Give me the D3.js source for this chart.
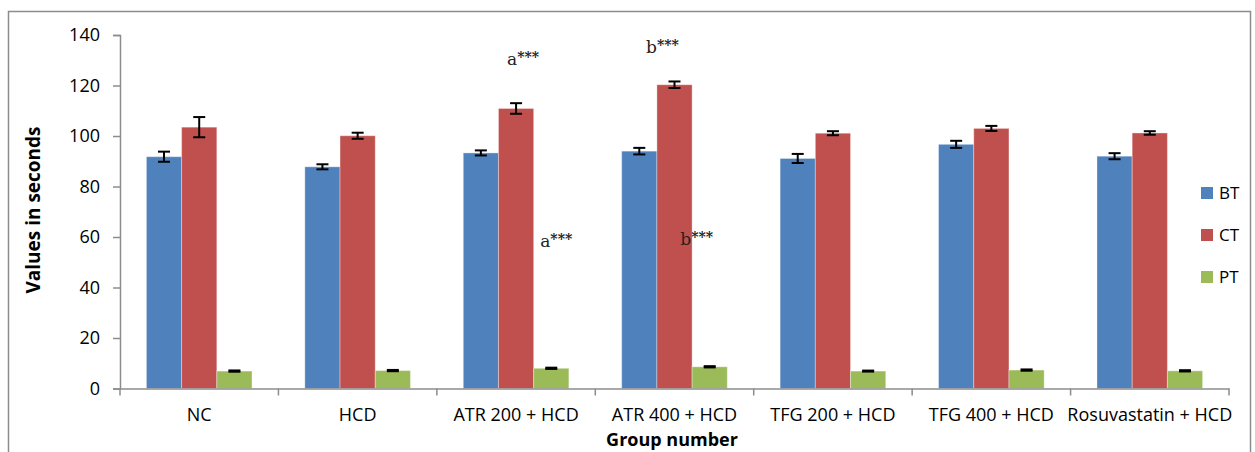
<!DOCTYPE html>
<html>
<head>
<meta charset="utf-8">
<script src="https://cdn.jsdelivr.net/npm/d3@7"></script>
<style>
  body { margin: 0; background: #fff; }
  svg { display: block; }
  .tick text { font-family: "Open Sans", "Liberation Sans", sans-serif; }
</style>
</head>
<body>
<div id="chart"></div>
<script>
// Data
const groups = ["NC", "HCD", "ATR 200 + HCD", "ATR 400 + HCD", "TFG 200 + HCD", "TFG 400 + HCD", "Rosuvastatin + HCD"];
const series = ["BT", "CT", "PT"];
const btValues = [91.8, 87.8, 93.3, 94.0, 91.1, 96.7, 92.0];
const btErrors = [2.0, 1.0, 1.0, 1.3, 1.8, 1.4, 1.2];
const ctValues = [103.5, 100.1, 110.9, 120.3, 101.1, 103.0, 101.2];
const ctErrors = [4.0, 1.2, 2.1, 1.3, 0.8, 1.0, 0.7];
const ptValues = [6.9, 7.1, 8.0, 8.6, 6.9, 7.3, 7.0];
const ptErrors = [0.25, 0.25, 0.25, 0.25, 0.2, 0.25, 0.25];
const yTicks = [0, 20, 40, 60, 80, 100, 120, 140];
const colors = ["#4F81BD", "#C0504D", "#9BBB59"];
// significance labels: group, series, value where the text sits, shift from bar centre
const marks = [
    {g: 2, s: 1, y: 128, dx: 7, label: "a", stars: "***"},
    {g: 3, s: 1, y: 133, dx: -12, label: "b", stars: "***"},
    {g: 2, s: 2, y: 56, dx: 5, label: "a", stars: "***"},
    {g: 3, s: 2, y: 57, dx: -13, label: "b", stars: "***"}
];

const values = [btValues, ctValues, ptValues];
const errors = [btErrors, ctErrors, ptErrors];

let width = 1255, height = 452;
let margin = {top: 35, left: 120, right: 26, bottom: 63.5};

let svg = d3.select("#chart").append("svg")
    .attr("width", width)
    .attr("height", height);

// outer frame
svg.append("rect")
    .attr("x", 8.5).attr("y", 11.5)
    .attr("width", 1242).attr("height", 470)
    .style("fill", "none")
    .style("stroke", "#8c8c8c")
    .style("stroke-width", 1.5);

let x = d3.scaleBand()
    .domain(groups)
    .range([margin.left, width - margin.right])
    .paddingInner(0)
    .paddingOuter(0);

let x1 = d3.scaleBand()
    .domain(series)
    .range([0, x.bandwidth()])
    .paddingInner(0)
    .paddingOuter(0.75);

let y = d3.scaleLinear()
    .domain([0, 140])
    .range([height - margin.bottom, margin.top]);

// bars
series.forEach(function (s, si) {
    svg.append("g").selectAll("rect")
        .data(groups)
        .join("rect")
        .attr("x", d => x(d) + x1(s))
        .attr("y", (d, i) => y(values[si][i]))
        .attr("width", x1.bandwidth())
        .attr("height", (d, i) => y(0) - y(values[si][i]))
        .style("fill", colors[si])
        .style("stroke", "rgba(255,255,255,0.35)")
        .style("stroke-width", 1);
});

// error bars
series.forEach(function (s, si) {
    let g = svg.append("g").style("stroke", "#000").style("stroke-width", 2);
    groups.forEach(function (d, i) {
        let cx = x(d) + x1(s) + x1.bandwidth() / 2;
        let hi = y(values[si][i] + errors[si][i]);
        let lo = y(values[si][i] - errors[si][i]);
        g.append("line").attr("x1", cx).attr("x2", cx).attr("y1", hi).attr("y2", lo);
        g.append("line").attr("x1", cx - 6).attr("x2", cx + 6).attr("y1", hi).attr("y2", hi);
        g.append("line").attr("x1", cx - 6).attr("x2", cx + 6).attr("y1", lo).attr("y2", lo);
    });
});

// y axis
let yAxis = svg.append("g")
    .attr("transform", "translate(" + margin.left + ",0)")
    .call(d3.axisLeft(y).tickValues(yTicks).tickSize(7).tickPadding(13));
yAxis.select(".domain").style("stroke", "#8c8c8c").style("stroke-width", 1.5);
yAxis.selectAll(".tick line").style("stroke", "#8c8c8c").style("stroke-width", 1.5);
yAxis.selectAll(".tick text").style("font-size", "18px").style("fill", "#000");

// x axis with ticks at category boundaries
let xAxis = svg.append("g")
    .attr("transform", "translate(0," + y(0) + ")")
    .call(d3.axisBottom(x).tickSize(0).tickPadding(20));
xAxis.select(".domain").style("stroke", "#8c8c8c").style("stroke-width", 1.5);
xAxis.selectAll(".tick text").style("font-size", "18px").style("fill", "#000");
let bounds = groups.map(d => x(d)).concat([x(groups[groups.length - 1]) + x.bandwidth()]);
xAxis.selectAll("line.sep")
    .data(bounds)
    .join("line")
    .attr("class", "sep")
    .attr("x1", d => d).attr("x2", d => d)
    .attr("y1", 0).attr("y2", 7)
    .style("stroke", "#8c8c8c")
    .style("stroke-width", 1.5);

// axis titles
svg.append("text")
    .attr("transform", "translate(40,210) rotate(-90)")
    .attr("text-anchor", "middle")
    .style("font-family", "'Open Sans', sans-serif")
    .style("font-weight", "bold")
    .style("font-size", "19px")
    .text("Values in seconds");

svg.append("text")
    .attr("x", 672)
    .attr("y", 446)
    .attr("text-anchor", "middle")
    .style("font-family", "'Open Sans', sans-serif")
    .style("font-weight", "bold")
    .style("font-size", "18px")
    .text("Group number");

// significance annotations
marks.forEach(function (m) {
    let cx = x(groups[m.g]) + x1(series[m.s]) + x1.bandwidth() / 2 + m.dx;
    let t = svg.append("text")
        .attr("x", cx)
        .attr("y", y(m.y))
        .attr("text-anchor", "middle")
        .style("font-family", "'DejaVu Serif', serif")
        .style("font-size", "17px")
        .style("fill", "#222");
    t.append("tspan").text(m.label);
    t.append("tspan").attr("dy", -3).style("font-size", "14px").style("font-weight", "bold").text(m.stars);
});

// legend
let legend = svg.append("g").attr("transform", "translate(1201,187)");
series.forEach(function (s, i) {
    let row = legend.append("g").attr("transform", "translate(0," + (i * 42) + ")");
    row.append("rect").attr("width", 12).attr("height", 12).style("fill", colors[i]);
    row.append("text")
        .attr("x", 18).attr("y", 12)
        .style("font-family", "'Open Sans', sans-serif")
        .style("font-size", "17px")
        .text(s);
});
</script>
</body>
</html>
